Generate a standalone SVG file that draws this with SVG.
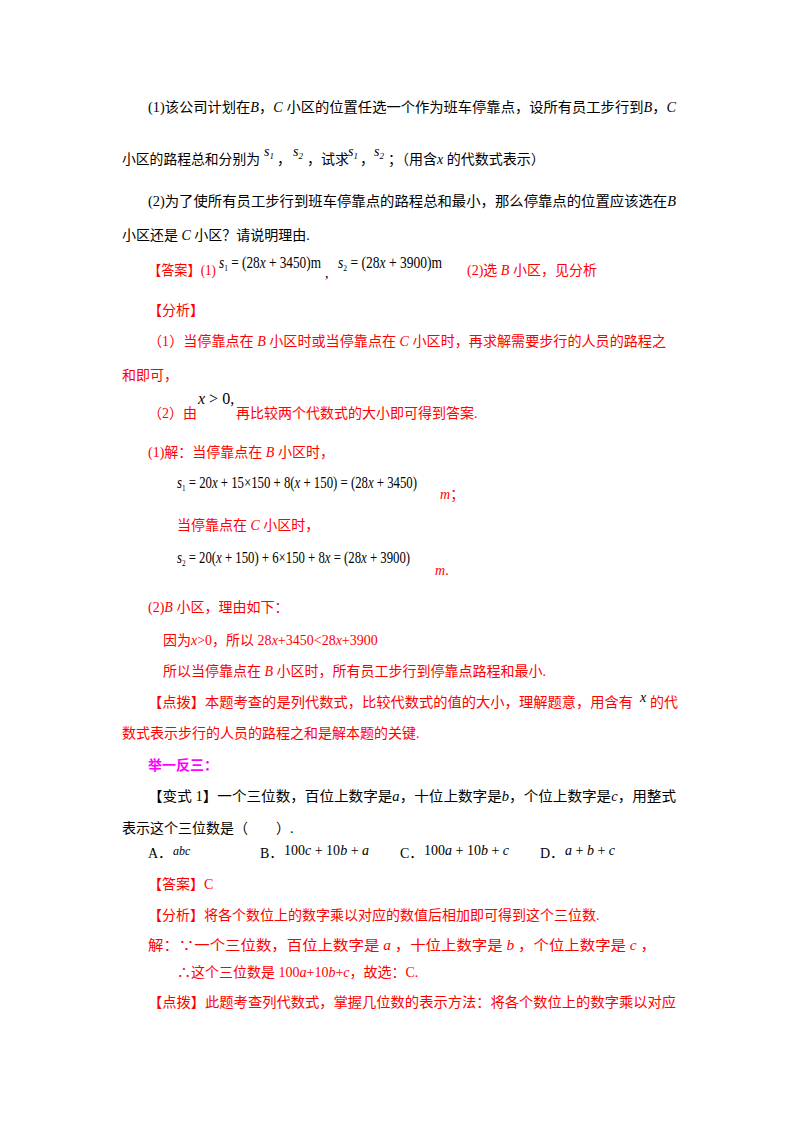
<svg xmlns="http://www.w3.org/2000/svg" width="800" height="1132" viewBox="0 0 800 1132">
<style>
text{font-family:"Liberation Serif","Noto Sans CJK SC",serif;font-size:14px;fill:#000}
.r{fill:#ff0000}
.m{fill:#ff00ff;font-weight:bold}
.i{font-style:italic}
.s{font-size:9px}
.f{font-size:16px}
</style>
<rect width="800" height="1132" fill="#fff"/>
<text x="148" y="112" textLength="528" lengthAdjust="spacingAndGlyphs">(1)该公司计划在<tspan class="i">B</tspan>，<tspan class="i">C</tspan> 小区的位置任选一个作为班车停靠点，设所有员工步行到<tspan class="i">B</tspan>，<tspan class="i">C</tspan></text>
<text x="122" y="164" textLength="138" lengthAdjust="spacingAndGlyphs">小区的路程总和分别为</text>
<text x="264" y="156" class="i">s<tspan class="s" dy="3">1</tspan></text>
<text x="277" y="164">，</text>
<text x="293" y="156" class="i">s<tspan class="s" dy="3">2</tspan></text>
<text x="307" y="164">，试求</text>
<text x="348" y="156" class="i">s<tspan class="s" dy="3">1</tspan></text>
<text x="360" y="164">，</text>
<text x="374" y="156" class="i">s<tspan class="s" dy="3">2</tspan></text>
<text x="388" y="164">；（用含<tspan class="i">x</tspan> 的代数式表示）</text>
<text x="148" y="206" textLength="528" lengthAdjust="spacingAndGlyphs">(2)为了使所有员工步行到班车停靠点的路程总和最小，那么停靠点的位置应该选在<tspan class="i">B</tspan></text>
<text x="122" y="240">小区还是 <tspan class="i">C</tspan> 小区？请说明理由.</text>
<text x="148" y="275" class="r" textLength="68" lengthAdjust="spacingAndGlyphs">【答案】(1)</text>
<text x="219" y="268" class="f" textLength="102" lengthAdjust="spacingAndGlyphs"><tspan class="i">s</tspan><tspan class="s" dy="3">1</tspan><tspan dy="-3"> = (28</tspan><tspan class="i">x</tspan> + 3450)m</text>
<text x="325" y="278">,</text>
<text x="338" y="268" class="f" textLength="104" lengthAdjust="spacingAndGlyphs"><tspan class="i">s</tspan><tspan class="s" dy="3">2</tspan><tspan dy="-3"> = (28</tspan><tspan class="i">x</tspan> + 3900)m</text>
<text x="467" y="275" class="r">(2)选 <tspan class="i">B</tspan> 小区，见分析</text>
<text x="148" y="315" class="r">【分析】</text>
<text x="148" y="346" class="r" textLength="518" lengthAdjust="spacingAndGlyphs">（1）当停靠点在 <tspan class="i">B</tspan> 小区时或当停靠点在 <tspan class="i">C</tspan> 小区时，再求解需要步行的人员的路程之</text>
<text x="122" y="380" class="r">和即可，</text>
<text x="148" y="418" class="r">（2）由</text>
<text x="198" y="404" class="f"><tspan class="i">x</tspan> &gt; 0,</text>
<text x="236" y="418" class="r">再比较两个代数式的大小即可得到答案.</text>
<text x="148" y="457" class="r">(1)解：当停靠点在 <tspan class="i">B</tspan> 小区时，</text>
<text x="177" y="488" class="f" textLength="240" lengthAdjust="spacingAndGlyphs"><tspan class="i">s</tspan><tspan class="s" dy="3">1</tspan><tspan dy="-3"> = 20</tspan><tspan class="i">x</tspan> + 15×150 + 8(<tspan class="i">x</tspan> + 150) = (28<tspan class="i">x</tspan> + 3450)</text>
<text x="440" y="499" class="r"><tspan class="i">m</tspan>；</text>
<text x="177" y="530" class="r">当停靠点在 <tspan class="i">C</tspan> 小区时，</text>
<text x="177" y="563" class="f" textLength="233" lengthAdjust="spacingAndGlyphs"><tspan class="i">s</tspan><tspan class="s" dy="3">2</tspan><tspan dy="-3"> = 20(</tspan><tspan class="i">x</tspan> + 150) + 6×150 + 8<tspan class="i">x</tspan> = (28<tspan class="i">x</tspan> + 3900)</text>
<text x="435" y="575" class="r"><tspan class="i">m</tspan>.</text>
<text x="148" y="612" class="r">(2)<tspan class="i">B</tspan> 小区，理由如下：</text>
<text x="163" y="645" class="r">因为<tspan class="i">x</tspan>&gt;0，所以 28<tspan class="i">x</tspan>+3450&lt;28<tspan class="i">x</tspan>+3900</text>
<text x="163" y="676" class="r">所以当停靠点在 <tspan class="i">B</tspan> 小区时，所有员工步行到停靠点路程和最小.</text>
<text x="148" y="707" class="r" textLength="485" lengthAdjust="spacingAndGlyphs">【点拨】本题考查的是列代数式，比较代数式的值的大小，理解题意，用含有</text>
<text x="640" y="702" class="i">x</text>
<text x="650" y="707" class="r">的代</text>
<text x="122" y="738" class="r">数式表示步行的人员的路程之和是解本题的关键.</text>
<text x="148" y="770" class="m">举一反三：</text>
<text x="148" y="801" textLength="528" lengthAdjust="spacingAndGlyphs">【变式 1】一个三位数，百位上数字是<tspan class="i">a</tspan>，十位上数字是<tspan class="i">b</tspan>，个位上数字是<tspan class="i">c</tspan>，用整式</text>
<text x="122" y="833">表示这个三位数是（　　）.</text>
<text x="148" y="858">A．<tspan x="173" y="855" class="i" font-size="12">abc</tspan></text>
<text x="260" y="858">B．<tspan x="284" y="855">100<tspan class="i">c</tspan> + 10<tspan class="i">b</tspan> + <tspan class="i">a</tspan></tspan></text>
<text x="400" y="858">C．<tspan x="424" y="855">100<tspan class="i">a</tspan> + 10<tspan class="i">b</tspan> + <tspan class="i">c</tspan></tspan></text>
<text x="540" y="858">D．<tspan x="565" y="855"><tspan class="i">a</tspan> + <tspan class="i">b</tspan> + <tspan class="i">c</tspan></tspan></text>
<text x="148" y="889" class="r">【答案】C</text>
<text x="148" y="920" class="r">【分析】将各个数位上的数字乘以对应的数值后相加即可得到这个三位数.</text>
<text x="148" y="950" class="r" textLength="508" lengthAdjust="spacingAndGlyphs">解：∵一个三位数，百位上数字是 <tspan class="i">a</tspan> ，十位上数字是 <tspan class="i">b</tspan> ，个位上数字是 <tspan class="i">c</tspan> ，</text>
<text x="177" y="977" class="r">∴这个三位数是 100<tspan class="i">a</tspan>+10<tspan class="i">b</tspan>+<tspan class="i">c</tspan>，故选：C.</text>
<text x="148" y="1007" class="r" textLength="528" lengthAdjust="spacingAndGlyphs">【点拨】此题考查列代数式，掌握几位数的表示方法：将各个数位上的数字乘以对应</text>
</svg>
